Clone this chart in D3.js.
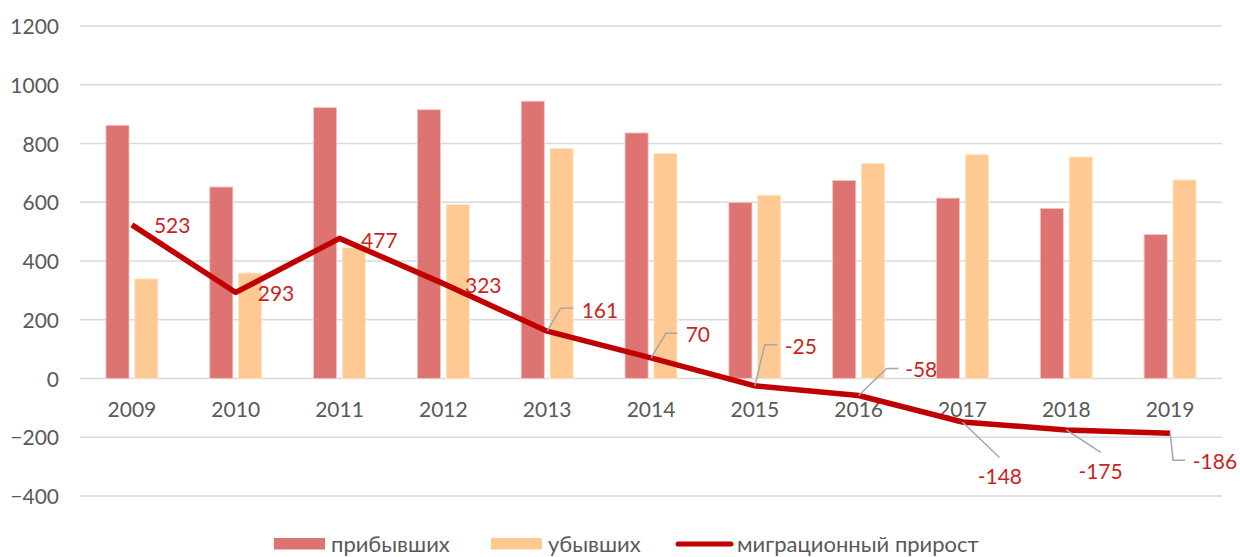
<!DOCTYPE html>
<html>
<head>
<meta charset="utf-8">
<script src="https://cdn.jsdelivr.net/npm/d3@7"></script>
<style>
  html, body { margin: 0; padding: 0; background: #fff; }
  svg { display: block; font-family: Lato, "Noto Sans", sans-serif; }
</style>
</head>
<body>
<svg id="chart" width="1240" height="557"></svg>
<script>
// ---- data ----
const years = ["2009","2010","2011","2012","2013","2014","2015","2016","2017","2018","2019"];
const arrived = [862, 652, 922, 915, 944, 836, 599, 674, 614, 579, 490];
const departed = [339, 359, 445, 592, 783, 766, 624, 732, 762, 754, 676];
const migration = [523, 293, 477, 323, 161, 70, -25, -58, -148, -175, -186];
const yTicks = [-400, -200, 0, 200, 400, 600, 800, 1000, 1200];
const seriesNames = ["прибывших", "убывших", "миграционный прирост"];

// ---- layout / style (not data) ----
const W = 1240, H = 557;
const plot = { left: 80, right: 1222, top: 26, bottom: 496 };
const colors = { arrived: "#dd7472", departed: "#ffc994", line: "#c00000", label: "#cc1f1f", axis: "#595959", grid: "#d9d9d9", leader: "#a6a6a6" };
// label placement relative to the data point: dx, dy (baseline), anchor, leader line offsets
const labelLayout = [
  { dx: 22, dy: 8.5, anchor: "start" },
  { dx: 22, dy: 8.8, anchor: "start" },
  { dx: 21.5, dy: 9.5, anchor: "start" },
  { dx: 21.6, dy: 9, anchor: "start" },
  { dx: 34.5, dy: -13, anchor: "start", leader: [[0,0],[13.5,-23],[26,-23]] },
  { dx: 34.7, dy: -15.6, anchor: "start", leader: [[0,0],[15,-24.6],[26.3,-24.6]] },
  { dx: 30, dy: -31.8, anchor: "start", leader: [[0,0],[10,-41],[22.5,-41]] },
  { dx: 46.5, dy: -18.5, anchor: "start", leader: [[0,0],[28,-27],[39.7,-27]] },
  { dx: 37.4, dy: 62, anchor: "middle", leader: [[0,0],[37,35.5]] },
  { dx: 34.3, dy: 49, anchor: "middle", leader: [[0,0],[34.5,22.5]] },
  { dx: 22.7, dy: 36, anchor: "start", leader: [[0,0],[3,27],[15,27]] }
];

const svg = d3.select("#chart");

const x0 = d3.scaleBand().domain(years).range([plot.left, plot.right]).paddingInner(0.5).paddingOuter(0.25);
const x1 = d3.scaleBand().domain(["arrived","departed"]).range([0, x0.bandwidth()]).paddingInner(0.2);
const y = d3.scaleLinear().domain([-400, 1200]).range([plot.bottom, plot.top]);

// gridlines
svg.append("g")
  .selectAll("line").data(yTicks).join("line")
  .attr("x1", plot.left).attr("x2", plot.right)
  .attr("y1", d => y(d)).attr("y2", d => y(d))
  .attr("stroke", colors.grid).attr("stroke-width", 1.5);

// y axis labels
const yAxis = d3.axisLeft(y).tickValues(yTicks).tickSize(0).tickPadding(0).tickFormat(d3.format("d"));
const gy = svg.append("g").attr("transform", `translate(${59},0)`).call(yAxis);
gy.select(".domain").remove();
gy.selectAll("text").attr("font-size", 21).attr("fill", colors.axis).attr("font-family", "Lato, 'Noto Sans', sans-serif")
  .attr("dy", "0.36em");

// bars
const groups = svg.append("g").selectAll("g").data(years).join("g")
  .attr("transform", d => `translate(${x0(d)},0)`);
groups.append("rect")
  .attr("x", x1("arrived")).attr("width", x1.bandwidth())
  .attr("y", (d, i) => y(arrived[i])).attr("height", (d, i) => y(0) - y(arrived[i]))
  .attr("fill", colors.arrived).attr("stroke", "#f4c6c4").attr("stroke-width", 0.8);
groups.append("rect")
  .attr("x", x1("departed")).attr("width", x1.bandwidth())
  .attr("y", (d, i) => y(departed[i])).attr("height", (d, i) => y(0) - y(departed[i]))
  .attr("fill", colors.departed).attr("stroke", "#ffe4c8").attr("stroke-width", 0.8);

// x axis labels
const xAxis = d3.axisBottom(x0).tickSize(0).tickPadding(0);
const gx = svg.append("g").attr("transform", `translate(0,${y(0)})`).call(xAxis);
gx.select(".domain").remove();
gx.selectAll("text").attr("font-size", 21).attr("fill", colors.axis).attr("font-family", "Lato, 'Noto Sans', sans-serif")
  .attr("dy", 0).attr("y", 38.5);

// line
const cx = (d, i) => x0(years[i]) + x0.bandwidth() / 2;
const line = d3.line().x((d, i) => cx(d, i)).y(d => y(d));
svg.append("path").datum(migration)
  .attr("d", line).attr("fill", "none")
  .attr("stroke", colors.line).attr("stroke-width", 5.5).attr("stroke-linejoin", "round");

// leader lines + labels
const lab = svg.append("g");
migration.forEach((v, i) => {
  const L = labelLayout[i];
  const px = cx(v, i), py = y(v);
  if (L.leader) {
    lab.append("path")
      .attr("d", d3.line()(L.leader.map(p => [px + p[0], py + p[1]])))
      .attr("fill", "none").attr("stroke", colors.leader).attr("stroke-width", 1.5);
  }
  lab.append("text")
    .attr("x", px + L.dx).attr("y", py + L.dy)
    .attr("text-anchor", L.anchor)
    .attr("font-size", 21).attr("fill", colors.label)
    .text(v);
});

// legend
const legend = svg.append("g");
const legendItems = [
  { name: seriesNames[0], type: "rect", color: colors.arrived, x: 274 },
  { name: seriesNames[1], type: "rect", color: colors.departed, x: 491 },
  { name: seriesNames[2], type: "line", color: colors.line, x: 676 }
];
const legendY = 544;
legendItems.forEach(it => {
  if (it.type === "rect") {
    legend.append("rect").attr("x", it.x).attr("y", legendY - 6).attr("width", 51).attr("height", 11.5).attr("fill", it.color);
  } else {
    legend.append("line").attr("x1", it.x + 2).attr("x2", it.x + 55).attr("y1", legendY).attr("y2", legendY)
      .attr("stroke", it.color).attr("stroke-width", 5).attr("stroke-linecap", "round");
  }
  legend.append("text").attr("x", it.x + (it.type === "rect" ? 57 : 61)).attr("y", legendY + 8)
    .attr("font-size", 22).attr("fill", colors.axis).text(it.name);
});
</script>
</body>
</html>
